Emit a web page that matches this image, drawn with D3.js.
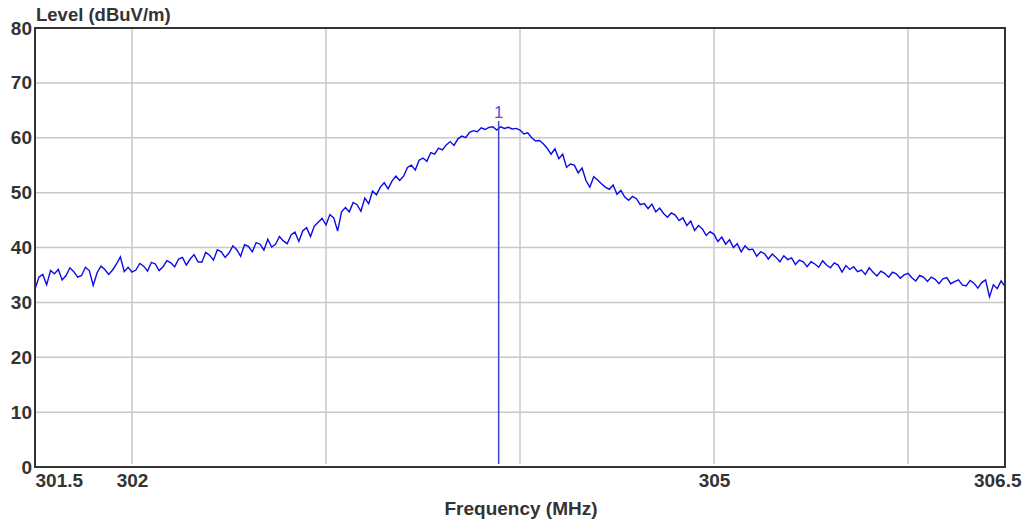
<!DOCTYPE html>
<html>
<head>
<meta charset="utf-8">
<script src="https://cdn.jsdelivr.net/npm/d3@7"></script>
<style>
  body { margin: 0; background: #fff; }
  svg text { font-family: "Liberation Sans", Arial, sans-serif; font-weight: bold; fill: #333; }
</style>
</head>
<body>
<svg id="chart" width="1030" height="522"></svg>
<script>
// sweep settings
const freqStart = 301.5;
const freqStop = 306.5;
// measured level, one value every 0.02 MHz
const levels = [
  32.4, 34.6, 35.1, 33.2, 35.8,  35.2, 36.0, 34.1, 34.9, 36.3,
  35.6, 34.6, 34.9, 36.4, 35.8,  33.1, 35.4, 36.6, 36.0, 35.1,
  35.9, 37.0, 38.3, 35.6, 36.4,  35.5, 35.9, 37.1, 36.6, 35.7,
  37.3, 37.0, 35.8, 36.5, 37.6,  37.2, 36.5, 37.9, 38.2, 36.8,
  37.9, 38.7, 37.4, 37.3, 39.1,  38.6, 37.7, 39.6, 39.2, 38.2,
  39.0, 40.3, 39.6, 38.4, 40.5,  40.2, 39.2, 40.9, 40.6, 39.5,
  41.5, 40.1, 40.6, 42.0, 41.2,  40.7, 42.3, 42.8, 41.1, 43.0,
  43.6, 42.0, 43.9, 44.6, 45.3,  44.1, 46.0, 45.4, 43.0, 46.5,
  47.3, 46.5, 48.2, 47.8, 46.6,  49.0, 48.0, 50.3, 49.6, 51.0,
  51.8, 50.7, 52.1, 53.0, 52.2,  53.0, 54.6, 55.0, 54.1, 55.9,
  56.3, 55.7, 57.3, 57.0, 58.1,  57.8, 58.7, 59.3, 58.6, 59.8,
  60.3, 60.0, 61.0, 61.3, 61.1,  61.8, 61.5, 61.9, 62.0, 61.4,
  62.0, 61.7, 61.9, 61.6, 61.7,  61.4, 60.7, 60.9, 60.0, 59.4,
  59.5, 58.9, 58.1, 57.0, 58.0,  56.2, 57.0, 54.6, 55.2, 55.0,
  53.6, 54.5, 52.2, 51.0, 52.9,  52.3, 51.6, 51.0, 50.6, 51.4,
  49.7, 50.4, 49.2, 48.6, 49.3,  48.9, 47.8, 48.0, 47.1, 47.9,
  46.5, 47.2, 46.2, 45.5, 46.3,  45.9, 44.9, 45.4, 44.0, 44.8,
  43.1, 44.0, 43.4, 42.2, 42.9,  42.4, 41.1, 41.9, 40.6, 41.4,
  40.0, 40.7, 39.2, 40.3, 39.6,  39.7, 38.4, 39.2, 38.9, 37.9,
  38.8, 38.2, 37.4, 38.5, 37.8,  38.1, 36.9, 37.7, 37.4, 36.5,
  37.4, 37.0, 36.4, 37.6, 36.8,  36.3, 37.2, 36.8, 35.5, 36.7,
  36.0, 36.5, 35.6, 35.9, 35.1,  36.3, 35.5, 34.8, 35.7, 35.3,
  34.6, 35.5, 35.2, 34.4, 35.0,  35.3, 34.5, 33.9, 34.9, 34.6,
  33.8, 34.6, 34.2, 33.4, 34.3,  34.5, 33.4, 33.8, 34.1, 33.2,
  33.0, 34.0, 33.5, 32.6, 33.6,  34.1, 31.0, 33.2, 32.5, 33.9,
  32.9
];
const yTicks = [0, 10, 20, 30, 40, 50, 60, 70, 80];
const xTickLabels = [301.5, 302, 305, 306.5];
const xGrid = [302, 303, 304, 305, 306];
const markerFreq = 303.89;
const markerLabel = "1";

const margin = { top: 28, right: 25, bottom: 55, left: 35 };
const width = 1030, height = 522;
const svg = d3.select("#chart");
const w = width - margin.left - margin.right;
const h = height - margin.top - margin.bottom;

const g = svg.append("g").attr("transform", `translate(${margin.left},${margin.top})`);

const x = d3.scaleLinear().domain([freqStart, freqStop]).range([0, w]);
const y = d3.scaleLinear().domain([0, 80]).range([h, 0]);
const idx = d3.scaleLinear().domain([0, levels.length - 1]).range([freqStart, freqStop]);

// grid
g.append("g").selectAll("line").data(xGrid).join("line")
  .attr("x1", d => x(d)).attr("x2", d => x(d))
  .attr("y1", 0).attr("y2", h - 3)
  .attr("stroke", "#c8c8c8").attr("stroke-width", 1.5);
g.append("g").selectAll("line").data(yTicks.slice(1, -1)).join("line")
  .attr("x1", 0).attr("x2", w)
  .attr("y1", d => y(d)).attr("y2", d => y(d))
  .attr("stroke", "#c8c8c8").attr("stroke-width", 1.5);

// trace
const line = d3.line().x((d, i) => x(idx(i))).y(d => y(d));
g.append("path").datum(levels)
  .attr("fill", "none").attr("stroke", "#0a0ae6").attr("stroke-width", 1.4)
  .attr("stroke-linejoin", "miter")
  .attr("d", line);

// marker
g.append("line")
  .attr("x1", x(markerFreq)).attr("x2", x(markerFreq))
  .attr("y1", 93).attr("y2", h - 3)
  .attr("stroke", "#4040cc").attr("stroke-width", 1.5);
g.append("text")
  .attr("x", x(markerFreq)).attr("y", 90)
  .attr("text-anchor", "middle")
  .style("font-weight", "normal").style("font-size", "17px").style("fill", "#5a4fcf")
  .text(markerLabel);

// frame
g.append("rect").attr("width", w).attr("height", h)
  .attr("fill", "none").attr("stroke", "#333").attr("stroke-width", 2);

// axes
const yAxis = g.append("g")
  .call(d3.axisLeft(y).tickValues(yTicks).tickSize(0).tickPadding(3).tickFormat(d3.format("d")));
yAxis.select(".domain").remove();
yAxis.selectAll("text").style("font-size", "19px").style("font-family", null);

const xAxis = g.append("g").attr("transform", `translate(0,${h})`)
  .call(d3.axisBottom(x).tickValues(xTickLabels).tickSize(0).tickPadding(7).tickFormat(d => d));
xAxis.select(".domain").remove();
xAxis.selectAll("text").style("font-size", "19px").style("font-family", null);
xAxis.selectAll("text").filter(d => d === freqStart).attr("text-anchor", "start");
xAxis.selectAll("text").filter(d => d === freqStop).attr("text-anchor", "end").attr("x", 16);

// titles
svg.append("text").attr("x", margin.left + 1).attr("y", 21)
  .style("font-size", "18.5px").text("Level (dBuV/m)");
svg.append("text").attr("x", 521).attr("y", 515).attr("text-anchor", "middle")
  .style("font-size", "19px").text("Frequency (MHz)");
</script>
</body>
</html>
